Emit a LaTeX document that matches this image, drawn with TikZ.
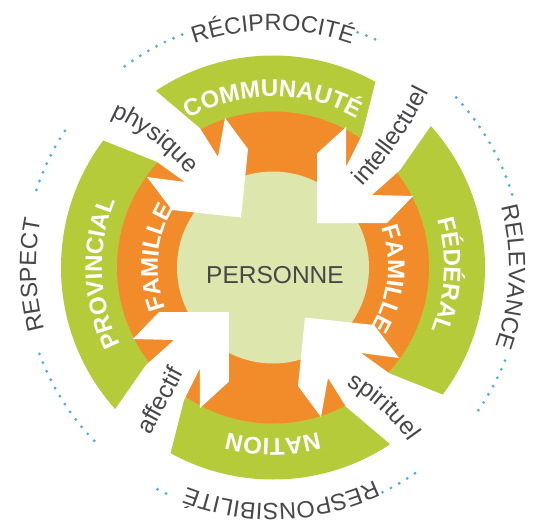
\documentclass[tikz,border=0pt]{standalone}
\usepackage{fontspec}
\setmainfont{Liberation Sans}
\usetikzlibrary{decorations.text}
\definecolor{cgreen}{HTML}{B5CB3A}
\definecolor{corange}{HTML}{F28C2B}
\definecolor{clight}{HTML}{DDE6AC}
\definecolor{cgrey}{HTML}{47474A}
\definecolor{cdot}{HTML}{52B0E0}
\begin{document}
\begin{tikzpicture}[x=1pt,y=1pt,
  dots/.style={cdot, line width=3.2pt, line cap=round, dash pattern=on 0pt off 9.4pt},
  arclabel/.style={decorate, decoration={text along path, text align=center, text={#1}}},
  shafttext/.style={text=cgrey, font=\fontsize{24.5}{24.5}\selectfont, inner sep=0pt},
]
\useasboundingbox (-273,-257.5) rectangle (265,267.5);
\fill[white] (-273,-257.5) rectangle (265,267.5);
\coordinate (O) at (0,0);
% rings
\fill[cgreen] (O) circle[radius=212pt];
\fill[corange] (O) circle[radius=156pt];
\fill[clight] (O) circle[radius=96pt];
% white arrows (two-fold symmetric)
\foreach \r in {0,180}{
 \begin{scope}[rotate=\r]
  \fill[white] (-142,197.8) -- (-116.3,175.8) -- (-73,139.2) -- (-55,110.5) -- (-48,149.5)
     -- (-25,118.5) -- (-32,50) -- (-101,57.5) -- (-126,90.5) -- (-88,85.5)
     -- (-116.3,105.8) -- (-166.3,125.8) -- (-206,142) -- cycle;
  \fill[white] (111.4,220.5) -- (103,187.5) -- (89,132.5) -- (73,100.5) -- (73,140.5)
     -- (44,114) -- (44,44.5) -- (114,44.5) -- (140,71.5) -- (99,72.5)
     -- (127,97.5) -- (157,140.5) -- (181,175) -- cycle;
 \end{scope}
}
% centre
\node[text=cgrey, font=\fontsize{24.5}{24.5}\selectfont, inner sep=0pt] (personne) at (2,-8) {PERSONNE};
% green labels
\path[arclabel={|\fontsize{24}{24}\selectfont\bfseries\color{white}|COMMUNAUTÉ}]
  (150:171pt) arc[start angle=150, end angle=30, radius=171pt];
\path[arclabel={|\fontsize{24}{24}\selectfont\bfseries\color{white}|PROVINCIAL}]
  (242:171pt) arc[start angle=242, end angle=122, radius=171pt];
\path[arclabel={|\fontsize{24}{24}\selectfont\bfseries\color{white}|FÉDÉRAL}]
  (57.3:171pt) arc[start angle=57.3, end angle=-62.7, radius=171pt];
\path[arclabel={|\fontsize{24}{24}\selectfont\bfseries\color{white}|NATION}]
  (-30:171pt) arc[start angle=-30, end angle=-150, radius=171pt];
% orange labels
\path[arclabel={|\fontsize{24}{24}\selectfont\bfseries\color{white}|FAMILLE}]
  (235:115pt) arc[start angle=235, end angle=115, radius=115pt];
\path[arclabel={|\fontsize{24}{24}\selectfont\bfseries\color{white}|FAMILLE}]
  (54.2:115pt) arc[start angle=54.2, end angle=-65.8, radius=115pt];
% arrow labels (slightly curved)
\path[arclabel={|\fontsize{24.5}{24.5}\selectfont\color{cgrey}|physique}]
  (-185.4,159.9) arc[start angle=73, end angle=33, radius=211pt];
\path[arclabel={|\fontsize{24.5}{24.5}\selectfont\color{cgrey}|intellectuel}]
  (69,60.4) arc[start angle=-47, end angle=-23, radius=415pt];
\path[arclabel={|\fontsize{24.5}{24.5}\selectfont\color{cgrey}|spirituel}]
  (54.7,-109.2) arc[start angle=68, end angle=28, radius=181pt];
\node[shafttext, rotate=62] (affectif) at (-113.5,-132.5) {affectif};
% outer values
\path[arclabel={|\fontsize{23.5}{23.5}\selectfont\color{cgrey}|RÉCIPROCITÉ}]
  (150:237pt) arc[start angle=150, end angle=30, radius=237pt];
\path[arclabel={|\fontsize{23.5}{23.5}\selectfont\color{cgrey}|RELEVANCE}]
  (57.7:236pt) arc[start angle=57.7, end angle=-62.3, radius=236pt];
\path[arclabel={|\fontsize{23.5}{23.5}\selectfont\color{cgrey}|RESPONSIBILITÉ}]
  (-28:236pt) arc[start angle=-28, end angle=-148, radius=236pt];
\path[arclabel={|\fontsize{23.5}{23.5}\selectfont\color{cgrey}|RESPECT}]
  (241.8:237pt) arc[start angle=241.8, end angle=121.8, radius=237pt];
% dotted arcs
\draw[dots] (146.7:249pt) arc[start angle=146.7, end angle=162.4, radius=249pt];
\draw[dots] (111.3:250pt) arc[start angle=111.3, end angle=127, radius=250pt];
\draw[dots] (65.9:250pt) arc[start angle=65.9, end angle=70.4, radius=250pt];
\draw[dots] (17:250pt) arc[start angle=17, end angle=44, radius=250pt];
\draw[dots] (-34.8:250pt) arc[start angle=-34.8, end angle=-21.4, radius=250pt];
\draw[dots] (-64:250pt) arc[start angle=-64, end angle=-55, radius=250pt];
\draw[dots] (-117.5:250pt) arc[start angle=-117.5, end angle=-115, radius=250pt];
\draw[dots] (-159.7:249pt) arc[start angle=-159.7, end angle=-134.9, radius=249pt];
\end{tikzpicture}
\end{document}
